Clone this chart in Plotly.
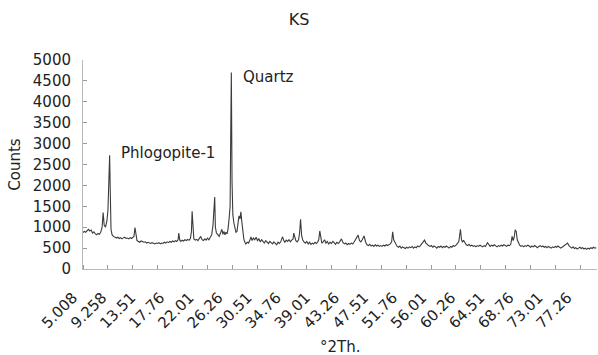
import plotly.graph_objects as go

two_theta = [
    5.0, 5.2, 5.4, 5.6, 5.8, 6.0, 6.2, 6.4, 6.6, 6.8, 7.0, 7.2, 7.4, 7.6, 7.8, 7.95, 8.1, 8.3, 8.5, 8.65,
    8.8, 8.9, 9.0, 9.1, 9.25, 9.45, 9.7, 9.9, 10.1, 10.3, 10.5, 10.7, 10.9, 11.1, 11.3, 11.5, 11.7, 11.9,
    12.1, 12.3, 12.45, 12.6, 12.75, 12.9, 13.1, 13.3, 13.5, 13.7, 13.9, 14.1, 14.3, 14.5, 14.7, 14.9, 15.1,
    15.3, 15.5, 15.7, 15.9, 16.1, 16.3, 16.5, 16.7, 16.9, 17.1, 17.3, 17.5, 17.7, 17.9, 18.1, 18.3, 18.5,
    18.7, 18.9, 19.0, 19.15, 19.3, 19.5, 19.7, 19.9, 20.1, 20.3, 20.5, 20.7, 20.85, 20.95, 21.05, 21.2,
    21.4, 21.6, 21.8, 22.0, 22.2, 22.4, 22.6, 22.8, 23.0, 23.2, 23.4, 23.6, 23.8, 24.0, 24.15, 24.25,
    24.35, 24.5, 24.7, 24.9, 25.1, 25.3, 25.45, 25.6, 25.75, 25.9, 26.05, 26.2, 26.35, 26.5, 26.6, 26.68,
    26.78, 26.9, 27.05, 27.2, 27.35, 27.5, 27.65, 27.8, 27.95, 28.07, 28.2, 28.35, 28.5, 28.66, 28.8, 29.0,
    29.2, 29.4, 29.55, 29.7, 29.9, 30.1, 30.3, 30.5, 30.7, 30.9, 31.1, 31.3, 31.5, 31.7, 31.9, 32.1, 32.3,
    32.5, 32.7, 32.9, 33.1, 33.3, 33.5, 33.7, 33.9, 34.15, 34.35, 34.5, 34.7, 34.9, 35.1, 35.3, 35.5, 35.7,
    35.8, 35.95, 36.1, 36.3, 36.5, 36.65, 36.79, 36.95, 37.1, 37.3, 37.5, 37.7, 37.9, 38.1, 38.3, 38.5,
    38.7, 38.9, 39.1, 39.3, 39.45, 39.6, 39.75, 39.9, 40.1, 40.3, 40.5, 40.7, 40.9, 41.1, 41.3, 41.5, 41.7,
    41.9, 42.1, 42.3, 42.5, 42.77, 43.0, 43.2, 43.4, 43.6, 43.8, 44.0, 44.2, 44.4, 44.6, 44.8, 45.0, 45.2,
    45.4, 45.6, 45.8, 46.07, 46.3, 46.5, 46.7, 46.9, 47.1, 47.3, 47.5, 47.7, 47.9, 48.1, 48.3, 48.5, 48.7,
    48.9, 49.1, 49.3, 49.5, 49.7, 49.9, 50.1, 50.25, 50.4, 50.55, 50.7, 50.9, 51.1, 51.3, 51.5, 51.7, 51.9,
    52.1, 52.3, 52.5, 52.7, 52.9, 53.1, 53.3, 53.5, 53.7, 53.9, 54.1, 54.3, 54.6, 54.9, 55.1, 55.3, 55.5,
    55.7, 55.9, 56.1, 56.3, 56.5, 56.7, 56.9, 57.1, 57.3, 57.5, 57.7, 57.9, 58.1, 58.3, 58.5, 58.7, 58.9,
    59.1, 59.3, 59.5, 59.7, 59.9, 60.0, 60.15, 60.3, 60.45, 60.6, 60.8, 61.0, 61.2, 61.4, 61.6, 61.8, 62.0,
    62.2, 62.4, 62.6, 62.8, 63.0, 63.2, 63.4, 63.6, 63.8, 64.1, 64.3, 64.5, 64.7, 64.9, 65.1, 65.3, 65.5,
    65.7, 65.9, 66.1, 66.3, 66.5, 66.7, 66.9, 67.1, 67.3, 67.5, 67.7, 67.85, 68.0, 68.15, 68.3, 68.45, 68.6,
    68.8, 69.0, 69.2, 69.4, 69.6, 69.8, 70.0, 70.2, 70.4, 70.6, 70.8, 71.0, 71.2, 71.4, 71.6, 71.8, 72.0,
    72.2, 72.4, 72.6, 72.8, 73.0, 73.2, 73.4, 73.6, 73.8, 74.0, 74.2, 74.4, 74.6, 74.8, 75.0, 75.2, 75.5,
    75.8, 76.0, 76.2, 76.4, 76.6, 76.8, 77.0, 77.2, 77.4, 77.6, 77.8, 78.0, 78.2, 78.4, 78.6, 78.8, 79.0,
    79.2, 79.4, 79.6, 79.8, 80.0,
]

counts = [
    870, 900, 880, 920, 950, 910, 930, 860, 890, 840, 820, 850, 830, 880, 1000, 1350, 1050, 1000, 1150, 1400,
    2000, 2720, 1800, 950, 820, 780, 760, 740, 760, 730, 750, 720, 745, 760, 730, 740, 720, 750,
    730, 760, 780, 990, 800, 680, 660, 640, 670, 650, 640, 650, 620, 640, 630, 610, 630,
    620, 600, 620, 610, 630, 600, 620, 610, 640, 620, 650, 630, 660, 640, 670, 650, 680,
    660, 700, 860, 690, 660, 690, 670, 700, 680, 710, 690, 730, 900, 1380, 950, 720,
    690, 710, 680, 740, 780, 700, 680, 720, 690, 740, 700, 760, 810, 1050, 1350, 1720,
    1000, 860, 820, 780, 860, 950, 830, 900, 820, 880, 840, 960, 1200, 1500, 3400, 4700,
    2100, 1300, 1100, 950, 880, 900, 1100, 1270, 1200, 1370, 1150, 900, 720, 640, 600, 640,
    620, 700, 770, 680, 740, 700, 760, 680, 720, 650, 700, 660, 620, 680, 640, 610, 660,
    630, 600, 650, 620, 580, 640, 610, 650, 770, 680, 640, 690, 660, 700, 650, 690, 720,
    860, 720, 680, 650, 700, 860, 1190, 800, 700, 650, 620, 660, 600, 640, 590, 620,
    600, 640, 610, 650, 700, 910, 680, 620, 650, 700, 620, 660, 600, 640, 610, 660, 630,
    590, 640, 610, 650, 720, 630, 600, 620, 580, 610, 590, 620, 600, 640, 700, 740, 810,
    680, 650, 700, 790, 640, 580, 560, 590, 550, 570, 540, 580, 550, 570, 540, 560, 540,
    570, 550, 580, 560, 580, 600, 650, 890, 700, 640, 580, 540, 520, 550, 500, 530, 510,
    490, 520, 500, 530, 510, 540, 500, 530, 510, 550, 530, 560, 640, 690, 620, 580, 560,
    540, 560, 520, 550, 530, 500, 540, 520, 550, 510, 540, 520, 550, 530, 500, 540, 520,
    560, 540, 570, 600, 650, 760, 950, 700, 640, 690, 620, 580, 560, 590, 550, 570, 540,
    560, 530, 560, 540, 570, 550, 530, 560, 540, 630, 570, 540, 570, 550, 580, 550, 530,
    560, 540, 570, 550, 580, 560, 540, 570, 560, 590, 780, 680, 760, 940, 900, 700, 620,
    570, 540, 560, 530, 560, 540, 570, 550, 520, 550, 530, 560, 540, 510, 540, 560, 530,
    550, 520, 540, 510, 540, 520, 500, 530, 510, 540, 520, 550, 530, 500, 520, 540, 580,
    620, 560, 520, 500, 530, 490, 510, 480, 500, 520, 490, 510, 480, 500, 470, 500, 480,
    510, 490, 520, 500, 510,
]

x_tick_vals = [5.008, 9.258, 13.51, 17.76, 22.01, 26.26, 30.51, 34.76, 39.01, 43.26, 47.51,
               51.76, 56.01, 60.26, 64.51, 68.76, 73.01, 77.26]
x_tick_text = ["5.008", "9.258", "13.51", "17.76", "22.01", "26.26", "30.51", "34.76", "39.01",
               "43.26", "47.51", "51.76", "56.01", "60.26", "64.51", "68.76", "73.01", "77.26"]

peak_labels = ["Phlogopite-1", "Quartz"]
peak_label_x = [10.26, 28.07]
peak_label_y = [2775, 4593]

FONT = "DejaVu Sans"
TXT = "#222222"

fig = go.Figure()
fig.add_trace(go.Scatter(
    x=two_theta, y=counts, mode="lines",
    line=dict(color="#3c3c3c", width=1.1),
    showlegend=False, hoverinfo="skip",
))

for t, xx, yy in zip(peak_labels, peak_label_x, peak_label_y):
    fig.add_annotation(x=xx, y=yy, text=t, showarrow=False, xanchor="left", yanchor="middle",
                       font=dict(family=FONT, size=15, color=TXT))

fig.add_annotation(xref="paper", yref="paper", x=0.5, y=-0.373, text="°2Th.", showarrow=False,
                   xanchor="center", yanchor="middle", font=dict(family=FONT, size=15, color=TXT))

fig.update_layout(
    width=598, height=355,
    margin=dict(l=83, r=1, t=60, b=86),
    paper_bgcolor="white", plot_bgcolor="white",
    title=dict(text="KS", x=0.5, xref="container", xanchor="center",
               y=1 - 19 / 355, yref="container", yanchor="middle",
               font=dict(family=FONT, size=16, color=TXT)),
    font=dict(family=FONT, size=15, color=TXT),
)

fig.update_xaxes(
    range=[5.008, 80.1], showgrid=False, zeroline=False,
    showline=True, linecolor="#b8b8b8", linewidth=1,
    tickmode="array", tickvals=x_tick_vals, ticktext=x_tick_text,
    tickangle=-45, ticks="", tickfont=dict(family=FONT, size=15, color=TXT),
    ticklabelstandoff=13, ticklabelshift=-10,
    minor=dict(ticks="inside", ticklen=4, tickcolor="#9a9a9a", tickwidth=1,
               tick0=5.008, dtick=3.632, showgrid=False),
)
fig.update_yaxes(
    range=[0, 5000], dtick=500, showgrid=False, zeroline=False,
    showline=True, linecolor="#b8b8b8", linewidth=1,
    ticks="inside", ticklen=4, tickcolor="#9a9a9a",
    ticklabelstandoff=8,
    tickfont=dict(family=FONT, size=15, color=TXT),
    title=dict(text="Counts", standoff=8, font=dict(family=FONT, size=15, color=TXT)),
)

fig.write_html("out.html")
